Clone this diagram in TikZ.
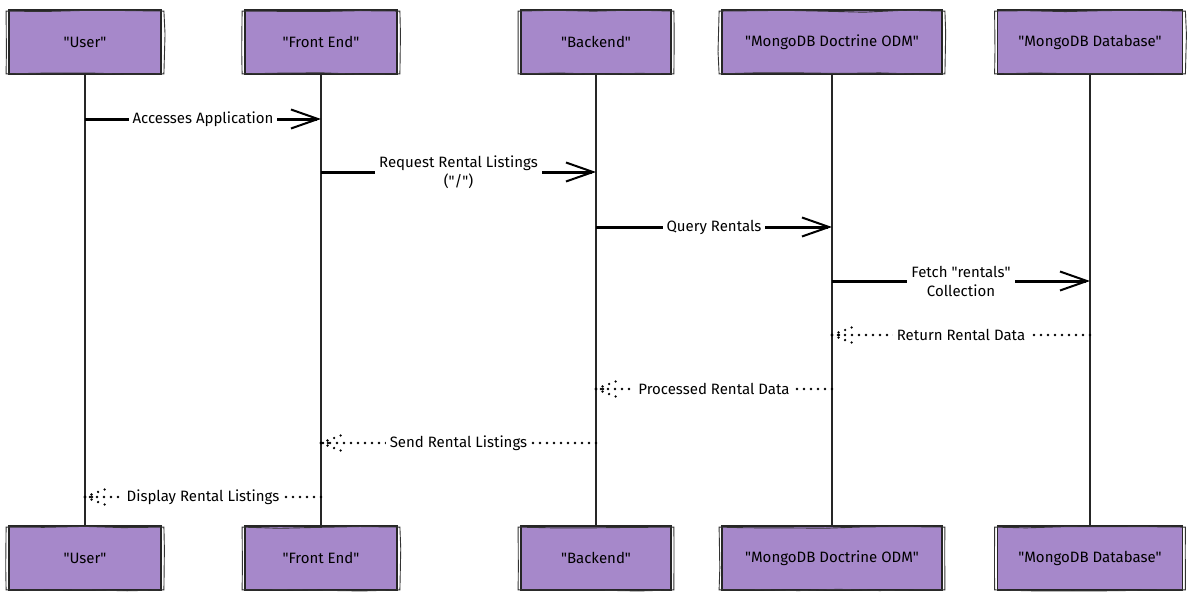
\documentclass[tikz,border=0pt]{standalone}
\usepackage{fontspec}
\setmainfont{Fira Sans}
\usepackage{tikz}
\usetikzlibrary{arrows.meta, decorations.pathmorphing}

\definecolor{actorfill}{RGB}{166,136,202}
\newcommand{\qt}{\textquotedbl}

\begin{document}
\begin{tikzpicture}[x=1pt, y=-1pt,
	actor/.style={draw=black!85, line width=1.8pt, fill=actorfill, minimum height=64pt, font=\fontsize{15}{17}\selectfont},
	sketch/.style={draw=black!80, line width=0.9pt, decorate, decoration={random steps, segment length=40pt, amplitude=1.2pt}},
	lifeline/.style={draw=black!85, line width=1.3pt},
	call/.style={line width=3pt, -{Straight Barb[length=27pt, width=19pt, line width=2pt]}},
	reply/.style={line width=2.6pt, line cap=round, dash pattern=on 0pt off 7pt},
	msg/.style={fill=white, align=center, inner sep=4pt, font=\fontsize{15}{19}\selectfont}]
	\def\top{42};
	\def\bot{558};
	\def\tip{26};

	\useasboundingbox (0,0) rectangle (1191,602);

	\node [actor, minimum width=152pt] (userT) at (85,\top) {\qt User\qt};
	\node [actor, minimum width=152pt] (feT) at (321,\top) {\qt Front End\qt};
	\node [actor, minimum width=150pt] (beT) at (596,\top) {\qt Backend\qt};
	\node [actor, minimum width=220pt] (odmT) at (832,\top) {\qt MongoDB Doctrine ODM\qt};
	\node [actor, minimum width=185pt] (dbT) at (1090,\top) {\qt MongoDB Database\qt};

	\node [actor, minimum width=152pt] (userB) at (85,\bot) {\qt User\qt};
	\node [actor, minimum width=152pt] (feB) at (321,\bot) {\qt Front End\qt};
	\node [actor, minimum width=150pt] (beB) at (596,\bot) {\qt Backend\qt};
	\node [actor, minimum width=220pt] (odmB) at (832,\bot) {\qt MongoDB Doctrine ODM\qt};
	\node [actor, minimum width=185pt] (dbB) at (1090,\bot) {\qt MongoDB Database\qt};

	% hand drawn look
	\foreach \n in {userT, feT, beT, odmT, dbT, userB, feB, beB, odmB, dbB}
		\draw [sketch] ([shift={(-2,2)}]\n.north west) rectangle ([shift={(2,-1)}]\n.south east);

	\foreach \n in {user, fe, be, odm, db}
		\draw [lifeline] (\n T) -- (\n B);

	\foreach \a/\b/\y/\t in {userT/feT/119/Accesses Application,
		feT/beT/172/{Request Rental Listings\\(\qt/\qt)},
		beT/odmT/227/Query Rentals,
		odmT/dbT/281/{Fetch \qt rentals\qt\\Collection}}
		\draw [call] (\a |- 0,\y) -- (\b |- 0,\y) node [msg, midway] {\t};

	\foreach \a/\b/\y/\t in {dbT/odmT/335/Return Rental Data,
		odmT/beT/389/Processed Rental Data,
		beT/feT/443/Send Rental Listings,
		feT/userT/497/Display Rental Listings} {
		\draw [reply] (\a |- 0,\y) -- (\b |- 0,\y) node [msg, midway] {\t};
		\draw [reply] (\b |- 0,\y) -- ++(\tip,-10);
		\draw [reply] (\b |- 0,\y) -- ++(\tip,10);
		\draw [reply] (\b |- 0,\y) -- ++(\tip*0.5,0);
	}
\end{tikzpicture}
\end{document}
